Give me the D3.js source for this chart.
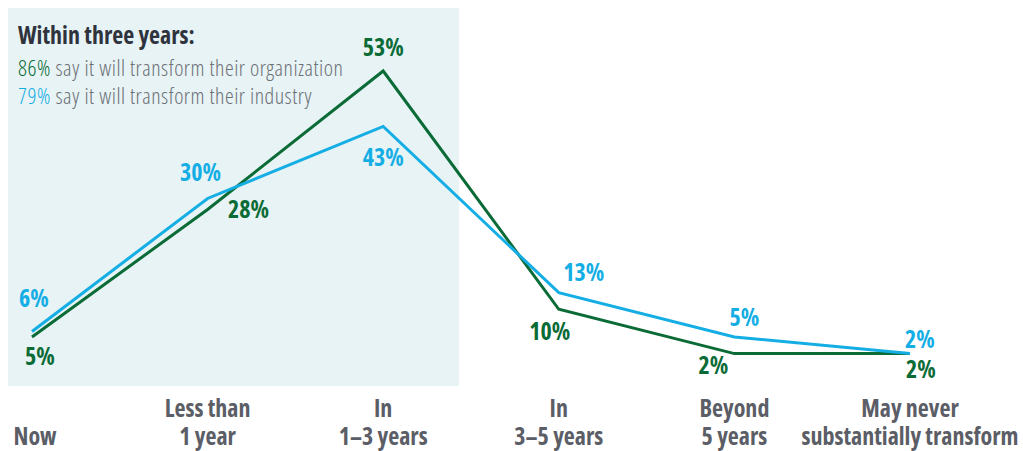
<!DOCTYPE html>
<html>
<head>
<meta charset="utf-8">
<script src="https://cdn.jsdelivr.net/npm/d3@7"></script>
<style>
  body { margin:0; background:#fff; }
  svg text { font-family: "Open Sans", sans-serif; font-stretch: condensed; }
</style>
</head>
<body>
<div id="chart"></div>
<script>
// data
var categories = ["Now", "Less than\n1 year", "In\n1\u20133 years", "In\n3\u20135 years", "Beyond\n5 years", "May never\nsubstantially transform"];
var orgValues = [5, 28, 53, 10, 2, 2];
var industryValues = [6, 30, 43, 13, 5, 2];
var legendLines = [
  {pct: "86%", text: " say it will transform their organization", series: "org"},
  {pct: "79%", text: " say it will transform their industry", series: "ind"}
];

var width = 1023, height = 451;
var green = "#0b6b36", blue = "#14aee5";

var svg = d3.select("#chart").append("svg")
  .attr("width", width)
  .attr("height", height);

var x = d3.scalePoint()
  .domain(categories)
  .range([32, 910]);

var y = d3.scaleLinear()
  .domain([0, 53])
  .range([364.7, 71]);

// shaded panel (covers first three periods)
svg.append("rect")
  .attr("x", 8).attr("y", 8)
  .attr("width", 451).attr("height", 378)
  .attr("fill", "#e7f3f5");

// title + legend
svg.append("text")
  .attr("x", 18).attr("y", 44)
  .attr("font-size", 24).attr("font-weight", "bold")
  .attr("fill", "#2f333d")
  .text("Within three years:");

var leg = svg.selectAll(".leg").data(legendLines).enter().append("text")
  .attr("class", "leg")
  .attr("x", 18)
  .attr("y", function(d, i) { return 76 + i * 28; })
  .attr("font-size", 22)
  .attr("font-weight", 300)
  .attr("letter-spacing", 0.5)
  .attr("fill", "#6d7075");
leg.append("tspan")
  .attr("fill", function(d) { return d.series == "org" ? green : blue; })
  .text(function(d) { return d.pct; });
leg.append("tspan").text(function(d) { return d.text; });

// lines
var line = d3.line()
  .x(function(d, i) { return x(categories[i]); })
  .y(function(d) { return y(d); });

svg.append("path")
  .datum(orgValues)
  .attr("d", line)
  .attr("fill", "none")
  .attr("stroke", green)
  .attr("stroke-width", 3);

svg.append("path")
  .datum(industryValues)
  .attr("d", line)
  .attr("fill", "none")
  .attr("stroke", blue)
  .attr("stroke-width", 3);

// value labels: offsets [dx, dy] relative to the point
var orgOffsets = [[8, 20], [41, 0], [0, -23], [-9, 22], [-21, 12], [11, 16]];
var indOffsets = [[2, -33], [-7, -26], [0, 31], [25, -20], [10, -19], [10, -14]];

function labels(values, offsets, color, cls) {
  svg.selectAll("." + cls).data(values).enter().append("text")
    .attr("class", cls)
    .attr("x", function(d, i) { return x(categories[i]) + offsets[i][0]; })
    .attr("y", function(d, i) { return y(d) + offsets[i][1]; })
    .attr("dy", "0.35em")
    .attr("text-anchor", "middle")
    .attr("font-size", 24).attr("font-weight", "bold")
    .attr("fill", color)
    .text(function(d) { return d + "%"; });
}
labels(orgValues, orgOffsets, green, "lblOrg");
labels(industryValues, indOffsets, blue, "lblInd");

// x axis labels (bottom aligned)
var ax = svg.selectAll(".cat").data(categories).enter().append("text")
  .attr("class", "cat")
  .attr("text-anchor", "middle")
  .attr("font-size", 24).attr("font-weight", "bold")
  .attr("fill", "#5b5e66");
ax.each(function(d) {
  var parts = d.split("\n");
  var t = d3.select(this);
  parts.forEach(function(p, i) {
    t.append("tspan")
      .attr("x", x(d) + (d == "Now" ? 3 : 0))
      .attr("y", 445 - (parts.length - 1 - i) * 28)
      .text(p);
  });
});
</script>
</body>
</html>
